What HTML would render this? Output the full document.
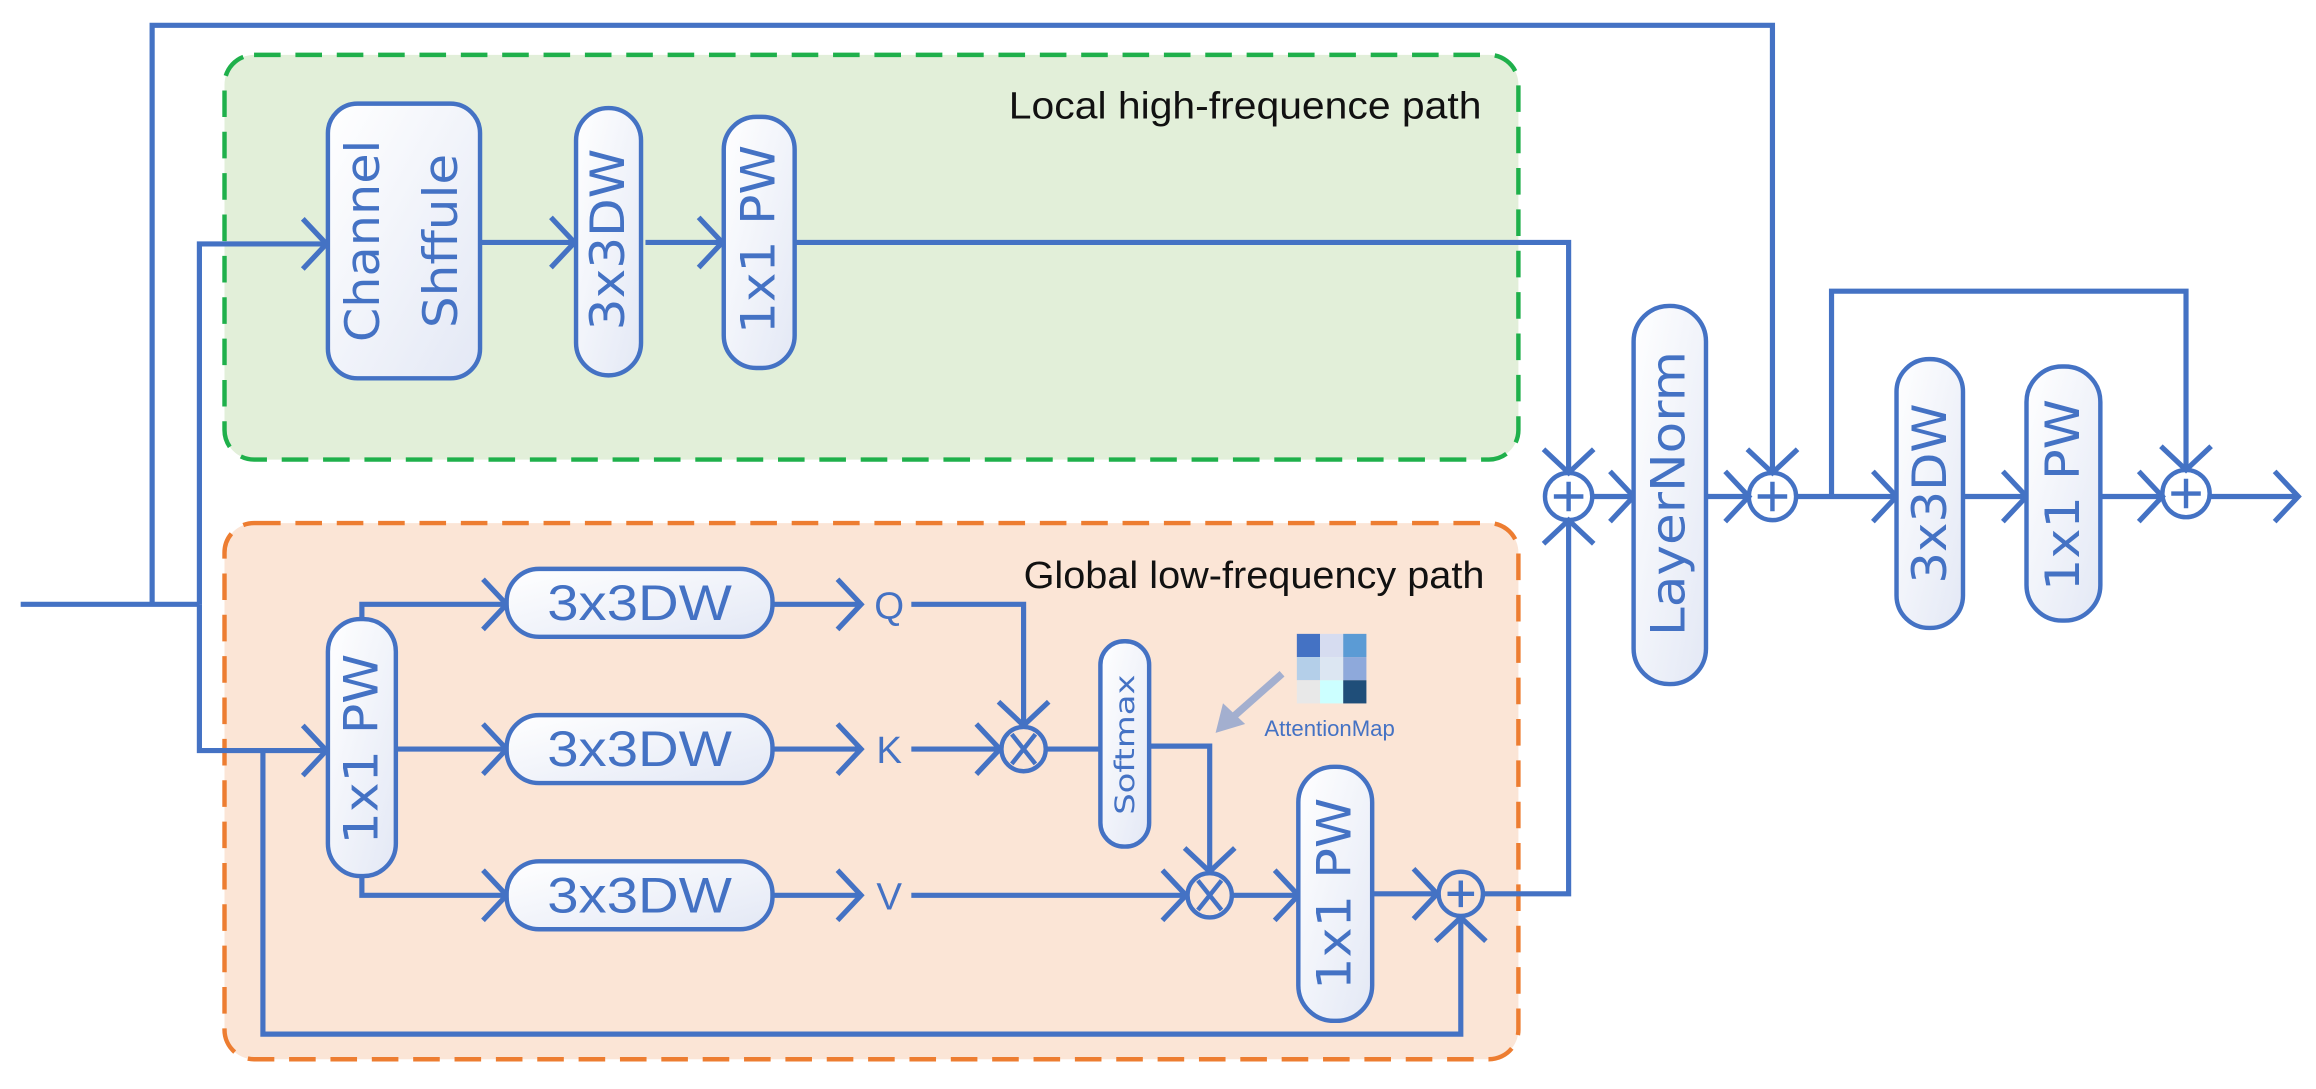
<!DOCTYPE html>
<html><head><meta charset="utf-8"><style>html,body{margin:0;padding:0;background:#fff}svg{display:block}</style></head>
<body>
<svg width="2316" height="1089" viewBox="0 0 1568 737" xmlns="http://www.w3.org/2000/svg">
<defs>
<marker id="a" markerUnits="userSpaceOnUse" markerWidth="40" markerHeight="40" refX="0" refY="0" viewBox="-20 -20 40 40" orient="auto" overflow="visible">
<path d="M-16,-17 L0,0 L-16,17" fill="none" stroke="#4472c4" stroke-width="3.5"/>
</marker>
<linearGradient id="g" x1="0" y1="0" x2="1" y2="1"><stop offset="0" stop-color="#fff"/><stop offset="1" stop-color="#e3e8f5"/></linearGradient>
</defs>
<rect x="152" y="37" width="876" height="274" rx="20" fill="#e2efd9" stroke="#1fb04b" stroke-width="3" stroke-dasharray="18,10"/>
<rect x="152" y="354" width="876" height="363" rx="20" fill="#fbe5d6" stroke="#ed7d31" stroke-width="3" stroke-dasharray="18,10"/>
<text x="683" y="80" font-family="Liberation Sans Narrow, Liberation Sans, sans-serif" font-size="26" fill="#111" textLength="320" lengthAdjust="spacingAndGlyphs">Local high-frequence path</text>
<text x="693" y="398" font-family="Liberation Sans Narrow, Liberation Sans, sans-serif" font-size="26" fill="#111" textLength="312" lengthAdjust="spacingAndGlyphs">Global low-frequency path</text>
<g fill="none" stroke="#4472c4" stroke-width="3.5">
<path d="M14,409 H135"/>
<path d="M103,409 V17 H1200 V320" marker-end="url(#a)"/>
<path d="M135,409 V165 H221" marker-end="url(#a)"/>
<path d="M135,409 V508 H221" marker-end="url(#a)"/>
<path d="M326,164 H389" marker-end="url(#a)"/>
<path d="M437,164 H489" marker-end="url(#a)"/>
<path d="M538,164 H1062 V320" marker-end="url(#a)"/>
<path d="M245,419 V409 H343" marker-end="url(#a)"/>
<path d="M268,507 H343" marker-end="url(#a)"/>
<path d="M245,593 V606 H343" marker-end="url(#a)"/>
<path d="M523,409 H583" marker-end="url(#a)"/>
<path d="M523,507 H583" marker-end="url(#a)"/>
<path d="M523,606 H583" marker-end="url(#a)"/>
<path d="M617,409 H693 V491" marker-end="url(#a)"/>
<path d="M617,507 H677" marker-end="url(#a)"/>
<path d="M709,507 H745"/>
<path d="M778,505 H819 V590" marker-end="url(#a)"/>
<path d="M617,606 H803" marker-end="url(#a)"/>
<path d="M835,606 H879" marker-end="url(#a)"/>
<path d="M929,605 H973" marker-end="url(#a)"/>
<path d="M1005,605 H1062 V352" marker-end="url(#a)"/>
<path d="M178,508 V700 H989 V621" marker-end="url(#a)"/>
<path d="M1078,336 H1106" marker-end="url(#a)"/>
<path d="M1155,336 H1184" marker-end="url(#a)"/>
<path d="M1216,336 H1284" marker-end="url(#a)"/>
<path d="M1240,336 V197 H1480 V318" marker-end="url(#a)"/>
<path d="M1329,336 H1372" marker-end="url(#a)"/>
<path d="M1422,336 H1464" marker-end="url(#a)"/>
<path d="M1496,336 H1556" marker-end="url(#a)"/>
</g>
<g fill="url(#g)" stroke="#4472c4" stroke-width="3">
<rect x="222" y="70" width="103" height="186" rx="20"/>
<rect x="390" y="73" width="44" height="181" rx="22"/>
<rect x="490" y="79" width="48" height="170" rx="22"/>
<rect x="222" y="419" width="46" height="174" rx="22"/>
<rect x="343" y="385" width="180" height="46" rx="22"/>
<rect x="343" y="484" width="180" height="46" rx="22"/>
<rect x="343" y="583" width="180" height="46" rx="22"/>
<rect x="745" y="434" width="33" height="139" rx="16"/>
<rect x="879" y="519" width="50" height="172" rx="24"/>
<rect x="1106" y="207" width="49" height="256" rx="24"/>
<rect x="1284" y="243" width="45" height="182" rx="22"/>
<rect x="1372" y="248" width="50" height="172" rx="24"/>
</g>
<g fill="#4472c4" font-family="DejaVu Sans, sans-serif" font-size="32" text-anchor="middle" dominant-baseline="central">
<text transform="translate(246,163) rotate(-90)" textLength="137" lengthAdjust="spacingAndGlyphs">Channel</text>
<text transform="translate(299,163) rotate(-90)" textLength="118" lengthAdjust="spacingAndGlyphs">Shffule</text>
<text transform="translate(412,162) rotate(-90)" textLength="123" lengthAdjust="spacingAndGlyphs">3x3DW</text>
<text transform="translate(514,162) rotate(-90)" textLength="128" lengthAdjust="spacingAndGlyphs">1x1 PW</text>
<text transform="translate(245,507) rotate(-90)" textLength="129" lengthAdjust="spacingAndGlyphs">1x1 PW</text>
<text transform="translate(762,504) rotate(-90)" font-size="18" textLength="95" lengthAdjust="spacingAndGlyphs">Softmax</text>
<text transform="translate(904,605) rotate(-90)" textLength="130" lengthAdjust="spacingAndGlyphs">1x1 PW</text>
<text transform="translate(1130,334) rotate(-90)" textLength="193" lengthAdjust="spacingAndGlyphs">LayerNorm</text>
<text transform="translate(1307,334) rotate(-90)" textLength="122" lengthAdjust="spacingAndGlyphs">3x3DW</text>
<text transform="translate(1397,335) rotate(-90)" textLength="130" lengthAdjust="spacingAndGlyphs">1x1 PW</text>
</g>
<g fill="#4472c4" font-family="Liberation Sans Narrow, Liberation Sans, sans-serif" font-size="34" text-anchor="middle" dominant-baseline="central">
<text x="433" y="408" textLength="125" lengthAdjust="spacingAndGlyphs">3x3DW</text>
<text x="433" y="507" textLength="125" lengthAdjust="spacingAndGlyphs">3x3DW</text>
<text x="433" y="606" textLength="125" lengthAdjust="spacingAndGlyphs">3x3DW</text>
<text x="602" y="410" font-size="26">Q</text>
<text x="602" y="508" font-size="26">K</text>
<text x="602" y="607" font-size="26">V</text>
</g>
<g fill="none" stroke="#4472c4" stroke-width="3">
<circle cx="693" cy="507" r="15"/><path d="M685,497 L701,517 M701,497 L685,517"/>
<circle cx="819" cy="606" r="15"/><path d="M811,596 L827,616 M827,596 L811,616"/>
<circle cx="989" cy="605" r="15"/><path d="M980,605 H998 M989,596 V614"/>
<circle cx="1062" cy="336" r="16"/><path d="M1052,336 H1072 M1062,326 V346"/>
<circle cx="1200" cy="336" r="16"/><path d="M1190,336 H1210 M1200,326 V346"/>
<circle cx="1480" cy="334" r="16"/><path d="M1470,334 H1490 M1480,324 V344"/>
</g>
<g>
<rect x="878" y="429" width="15.7" height="15.7" fill="#4472c4"/>
<rect x="893.7" y="429" width="15.7" height="15.7" fill="#d6dcf0"/>
<rect x="909.4" y="429" width="15.7" height="15.7" fill="#5b9bd5"/>
<rect x="878" y="444.7" width="15.7" height="15.7" fill="#b4cfe9"/>
<rect x="893.7" y="444.7" width="15.7" height="15.7" fill="#dce6f2"/>
<rect x="909.4" y="444.7" width="15.7" height="15.7" fill="#8ea9db"/>
<rect x="878" y="460.4" width="15.7" height="15.7" fill="#e8e8e8"/>
<rect x="893.7" y="460.4" width="15.7" height="15.7" fill="#ccffff"/>
<rect x="909.4" y="460.4" width="15.7" height="15.7" fill="#1f4e79"/>
</g>
<path d="M868,456 L834,486" stroke="#a3afcf" stroke-width="5" fill="none"/>
<polygon points="823,496 828,476 843,490" fill="#a3afcf"/>
<text x="856" y="498" font-family="Liberation Sans, sans-serif" font-size="15" fill="#4472c4">AttentionMap</text>
</svg>
</body></html>
